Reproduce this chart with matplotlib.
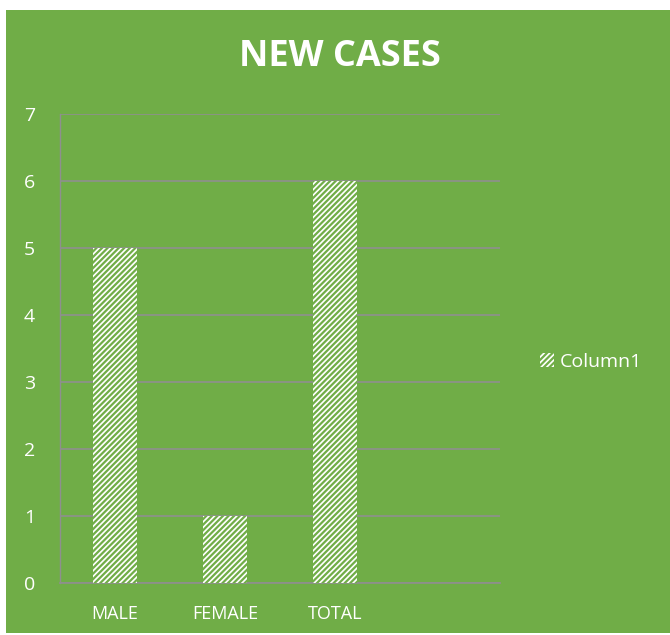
import matplotlib.pyplot as plt
import matplotlib.patches as mpatches

# data
categories = ["MALE", "FEMALE", "TOTAL", ""]
values = [5, 1, 6, 0]
series_name = "Column1"

green = "#70AD47"
grid_col = "#8f8f8f"

plt.rcParams['font.family'] = ['Open Sans', 'DejaVu Sans']
plt.rcParams['hatch.linewidth'] = 1.6

fig = plt.figure(figsize=(6.7, 6.35), dpi=100, facecolor="white")
# green chart area (leaves a thin white margin top/left like the screenshot)
fig.patches.append(mpatches.Rectangle((6/670, 2/635), 1, 623/635, transform=fig.transFigure,
                                      facecolor=green, edgecolor="none", zorder=-10))

ax = fig.add_axes([60/670, 1 - 583/635, 440/670, 469/635])
ax.set_facecolor("none")
ax.set_zorder(2)

x = range(len(categories))
bars = ax.bar(x, values, width=0.4, color="white", edgecolor=green, hatch="//////",
              linewidth=0, label=series_name, zorder=3)

ax.set_xlim(-0.5, len(categories) - 0.5)
ax.set_ylim(0, 7)
ax.set_yticks(range(0, 8))
ax.set_xticks(list(x))
ax.set_xticklabels(categories)
ax.grid(axis="y", color=grid_col, linewidth=1.2, zorder=0)
ax.tick_params(axis="both", length=0, colors="white")
ax.tick_params(axis="x", pad=16, labelsize=13)
ax.tick_params(axis="y", pad=18, labelsize=14)
for s in ["top", "right"]:
    ax.spines[s].set_visible(False)
ax.spines["left"].set_color(grid_col)
ax.spines["bottom"].set_color(grid_col)
ax.spines["left"].set_linewidth(1.0)
ax.spines["bottom"].set_linewidth(1.2)

fig.text(340/670, 1 - 57/635, "NEW CASES", color="white", fontsize=26, fontweight="bold",
         ha="center", va="center")

leg = fig.legend(handles=[bars], loc="center left", bbox_to_anchor=(522/670, 1 - 362/635),
                 frameon=False, fontsize=14, handlelength=0.75, handleheight=0.75,
                 handletextpad=0.3, labelcolor="white")

fig.savefig("out.png", dpi=100, facecolor="white")
